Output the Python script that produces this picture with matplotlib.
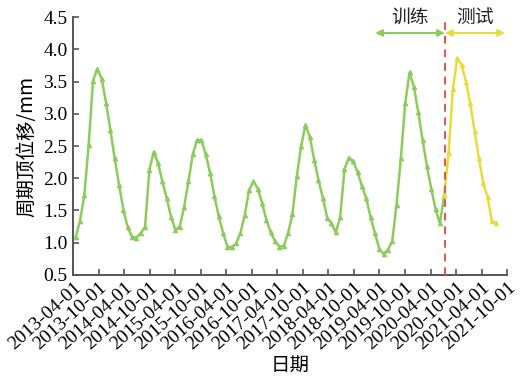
import matplotlib
matplotlib.use("Agg")
import matplotlib.pyplot as plt
import matplotlib.dates as mdates
import pandas as pd

# ---- data ----
start_date = "2013-04-20"
step = "31D"
train_values = [1.09, 1.34, 1.74, 2.52, 3.51, 3.70, 3.54, 3.17, 2.75, 2.31, 1.90, 1.51,
                1.24, 1.09, 1.08, 1.15, 1.25, 2.13, 2.41, 2.23, 1.95, 1.69, 1.40, 1.20,
                1.25, 1.55, 1.95, 2.37, 2.59, 2.59, 2.37, 2.08, 1.72, 1.41, 1.15, 0.94,
                0.93, 0.99, 1.15, 1.43, 1.82, 1.95, 1.84, 1.61, 1.35, 1.16, 1.02, 0.94,
                0.95, 1.15, 1.45, 2.03, 2.50, 2.83, 2.64, 2.29, 1.97, 1.70, 1.39, 1.30,
                1.16, 1.40, 2.14, 2.32, 2.26, 2.10, 1.88, 1.69, 1.40, 1.15, 0.91, 0.83,
                0.89, 1.02, 1.59, 2.31, 3.16, 3.64, 3.42, 3.03, 2.60, 2.19, 1.84, 1.52,
                1.30, 1.74]
test_values = [1.74, 2.39, 3.38, 3.86, 3.76, 3.50, 3.16, 2.73, 2.31, 1.92, 1.71, 1.33, 1.31]
tick_labels = ["2013-04-01", "2013-10-01", "2014-04-01", "2014-10-01", "2015-04-01",
               "2015-10-01", "2016-04-01", "2016-10-01", "2017-04-01", "2017-10-01",
               "2018-04-01", "2018-10-01", "2019-04-01", "2019-10-01", "2020-04-01",
               "2020-10-01", "2021-04-01", "2021-10-01"]
split_date = "2020-07-12"
train_arrow_start = "2019-03-01"
test_arrow_end = "2021-09-15"
train_label = "训练"
test_label = "测试"
x_label = "日期"
y_label = "周期顶位移/mm"

n_total = len(train_values) + len(test_values) - 1
dates = pd.date_range(start_date, periods=n_total, freq=step)
train_dates = dates[:len(train_values)]
test_dates = dates[len(train_values) - 1:]

green = "#8dcb5c"
yellow = "#e9db3e"
red = "#e0574a"
serif = ["Liberation Serif", "DejaVu Serif"]
cjk = ["Noto Sans CJK SC", "DejaVu Sans"]

fig = plt.figure(figsize=(5.28, 3.78), dpi=100)
ax = fig.add_axes([0.1383, 0.2725, 0.8225, 0.6825])

ax.plot(train_dates, train_values, color=green, lw=1.8, marker="^", ms=3.5,
        markeredgewidth=0.5, zorder=3)
ax.plot(test_dates, test_values, color=yellow, lw=1.8, marker="^", ms=3.5,
        markeredgewidth=0.5, zorder=3)

xs = mdates.date2num(pd.Timestamp(split_date).to_pydatetime())
xa = mdates.date2num(pd.Timestamp(train_arrow_start).to_pydatetime())
xb = mdates.date2num(pd.Timestamp(test_arrow_end).to_pydatetime())
ax.axvline(xs, color=red, lw=1.4, ls=(0, (4, 3)), zorder=4)

tr = ax.get_xaxis_transform()
ax.annotate("", xy=(xa, 0.938), xytext=(xs, 0.938),
            xycoords=tr, textcoords=tr,
            arrowprops=dict(arrowstyle="<|-|>", color=green, lw=1.5,
                            mutation_scale=10, shrinkA=0, shrinkB=0),
            annotation_clip=False)
ax.annotate("", xy=(xs, 0.938), xytext=(xb, 0.938),
            xycoords=tr, textcoords=tr,
            arrowprops=dict(arrowstyle="<|-|>", color=yellow, lw=1.5,
                            mutation_scale=10, shrinkA=0, shrinkB=0),
            annotation_clip=False)
ax.text((xa + xs) / 2, 1.0, train_label, transform=tr, ha="center", va="center",
        fontsize=13.5, family=cjk, color="#222222")
ax.text((xs + xb) / 2, 1.0, test_label, transform=tr, ha="center", va="center",
        fontsize=13.5, family=cjk, color="#222222")

ticks = pd.to_datetime(tick_labels)
ax.set_xlim(ticks[0], ticks[-1])
ax.set_ylim(0.5, 4.5)
ax.set_xticks(ticks)
ax.set_xticklabels(tick_labels, rotation=42, ha="right", rotation_mode="anchor",
                   family=serif, fontsize=14)
yt = [0.5 + 0.5 * i for i in range(9)]
ax.set_yticks(yt)
ax.set_yticklabels([f"{v:.1f}" for v in yt], family=serif, fontsize=14)

for s in ["top", "right"]:
    ax.spines[s].set_visible(False)
for s in ["left", "bottom"]:
    ax.spines[s].set_color("#555555")
    ax.spines[s].set_linewidth(1.4)
ax.tick_params(direction="in", length=4, width=1.2, color="#555555")
ax.tick_params(axis="y", pad=4)
ax.tick_params(axis="x", pad=3)

ax.set_xlabel(x_label, family=cjk, fontsize=14, labelpad=1.5)
ax.set_ylabel(y_label, family=cjk, fontsize=14, labelpad=4)

fig.savefig("out.png", dpi=100)
